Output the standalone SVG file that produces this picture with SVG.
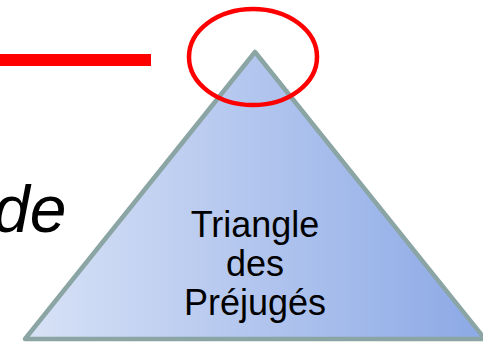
<svg xmlns="http://www.w3.org/2000/svg" width="483" height="344" viewBox="0 0 483 344">
<style>
.lbl{font-family:"Liberation Sans",Arial,sans-serif;font-size:36px;fill:#000;text-anchor:middle}
.big{font-family:"Liberation Sans",Arial,sans-serif;font-size:66px;font-style:italic;fill:#000}
</style>
<defs>
<linearGradient id="g" x1="0" y1="0" x2="1" y2="0">
<stop offset="0" stop-color="#D8E2F6"/>
<stop offset="1" stop-color="#8CA9E6"/>
</linearGradient>
</defs>
<rect x="0" y="0" width="483" height="344" fill="#fff"/>
<g id="redline"><rect x="0" y="54" width="151" height="12" fill="#FF0000"/></g>
<g id="de"><text class="big" x="-7" y="232">de</text></g>
<g id="triangle">
<polygon points="25,339 255,52 485,339" fill="url(#g)" stroke="#8BA4A4" stroke-width="4.5" stroke-linejoin="round"/>
<text class="lbl" x="255" y="237">Triangle</text>
<text class="lbl" x="255" y="276">des</text>
<text class="lbl" x="255" y="315">Préjugés</text>
</g>
<g id="highlight"><ellipse cx="253" cy="57" rx="64" ry="48" fill="none" stroke="#FF0000" stroke-width="4.5"/></g>
</svg>
